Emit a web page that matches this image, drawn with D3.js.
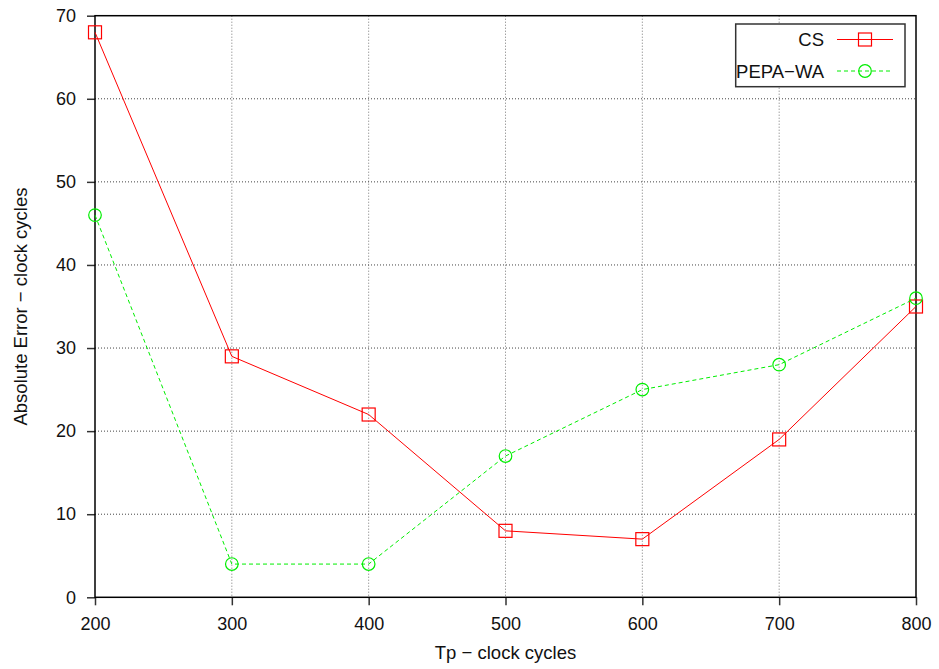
<!DOCTYPE html>
<html><head><meta charset="utf-8">
<script src="https://cdn.jsdelivr.net/npm/d3@7"></script>
<style>body{margin:0;background:#fff}svg{display:block}text{font-family:"Liberation Sans",Arial,sans-serif}</style>
</head><body>
<svg id="c" width="939" height="669"></svg>
<script>
const xValues = [200, 300, 400, 500, 600, 700, 800];
const csValues = [68, 29, 22, 8, 7, 19, 35];
const pepaValues = [46, 4, 4, 17, 25, 28, 36];
const xTicks = [200, 300, 400, 500, 600, 700, 800];
const yTicks = [0, 10, 20, 30, 40, 50, 60, 70];
const seriesNames = ["CS", "PEPA\u2212WA"];

const svg = d3.select("#c");
const L = 95, R = 916, T = 15.7, B = 597.3;
const x = d3.scaleLinear().domain([200, 800]).range([L, R]);
const y = d3.scaleLinear().domain([0, 70]).range([B, T]);

// grid
const g = svg.append("g");
g.selectAll("line.vg").data(xTicks.slice(1, -1)).enter().append("line")
  .attr("x1", d => x(d)).attr("x2", d => x(d)).attr("y1", T).attr("y2", B)
  .attr("stroke", "#777").attr("stroke-width", 1).attr("stroke-dasharray", "1,2");
g.selectAll("line.hg").data(yTicks.slice(1, -1)).enter().append("line")
  .attr("x1", L).attr("x2", R).attr("y1", d => y(d)).attr("y2", d => y(d))
  .attr("stroke", "#444").attr("stroke-width", 1).attr("stroke-dasharray", "1,2");

// axes
const xa = svg.append("g").attr("transform", `translate(0,${B})`)
  .call(d3.axisBottom(x).tickValues(xTicks).tickSize(8).tickPadding(12).tickFormat(d3.format("d")));
const ya = svg.append("g").attr("transform", `translate(${L},0)`)
  .call(d3.axisLeft(y).tickValues(yTicks).tickSize(8).tickPadding(11).tickFormat(d3.format("d")));
[xa, ya].forEach(a => {
  a.select(".domain").remove();
  a.selectAll(".tick line").attr("stroke", "#333").attr("stroke-width", 1.5);
  a.selectAll(".tick text").attr("font-size", 18).attr("fill", "#111")
   .style("font-family", '"Liberation Sans",Arial,sans-serif');
});

// frame
svg.append("rect").attr("x", L).attr("y", T).attr("width", R - L).attr("height", B - T)
  .attr("fill", "none").attr("stroke", "#000").attr("stroke-width", 1.5);

const line = d3.line().x((d, i) => x(xValues[i])).y(d => y(d));

// CS
svg.append("path").datum(csValues).attr("d", line).attr("fill", "none")
  .attr("stroke", "#ff0000").attr("stroke-width", 1);
svg.selectAll("rect.cs").data(csValues).enter().append("rect")
  .attr("x", (d, i) => x(xValues[i]) - 6.5).attr("y", d => y(d) - 6.5)
  .attr("width", 13).attr("height", 13).attr("fill", "none").attr("stroke", "#ff0000").attr("stroke-width", 1.2);

// PEPA-WA
svg.append("path").datum(pepaValues).attr("d", line).attr("fill", "none")
  .attr("stroke", "#00ee00").attr("stroke-width", 1).attr("stroke-dasharray", "4,3");
svg.selectAll("circle.pw").data(pepaValues).enter().append("circle")
  .attr("cx", (d, i) => x(xValues[i])).attr("cy", d => y(d)).attr("r", 6.3)
  .attr("fill", "none").attr("stroke", "#00ee00").attr("stroke-width", 1.2);

// legend
svg.append("rect").attr("x", 735.7).attr("y", 24).attr("width", 169.3).attr("height", 62.7)
  .attr("fill", "#fff").attr("stroke", "#333").attr("stroke-width", 1.5);
svg.append("text").attr("x", 824).attr("y", 46).attr("text-anchor", "end").attr("font-size", 18.5).attr("fill", "#111").text(seriesNames[0]);
svg.append("text").attr("x", 824).attr("y", 77.5).attr("text-anchor", "end").attr("font-size", 18.5).attr("fill", "#111").text(seriesNames[1]);
svg.append("line").attr("x1", 837).attr("x2", 893).attr("y1", 39.5).attr("y2", 39.5).attr("stroke", "#ff0000").attr("stroke-width", 1);
svg.append("rect").attr("x", 858.5).attr("y", 33).attr("width", 13).attr("height", 13).attr("fill", "none").attr("stroke", "#ff0000").attr("stroke-width", 1.2);
svg.append("line").attr("x1", 837).attr("x2", 893).attr("y1", 71).attr("y2", 71).attr("stroke", "#00ee00").attr("stroke-width", 1).attr("stroke-dasharray", "4,3");
svg.append("circle").attr("cx", 865).attr("cy", 71).attr("r", 6.3).attr("fill", "none").attr("stroke", "#00ee00").attr("stroke-width", 1.2);

// axis titles
svg.append("text").attr("x", 505.5).attr("y", 658.5).attr("text-anchor", "middle").attr("font-size", 18.5).attr("fill", "#111").text("Tp \u2212 clock cycles");
svg.append("text").attr("transform", `translate(27,${(T + B) / 2}) rotate(-90)`).attr("text-anchor", "middle").attr("font-size", 18.5).attr("fill", "#111").text("Absolute Error \u2212 clock cycles");
</script>
</body></html>
